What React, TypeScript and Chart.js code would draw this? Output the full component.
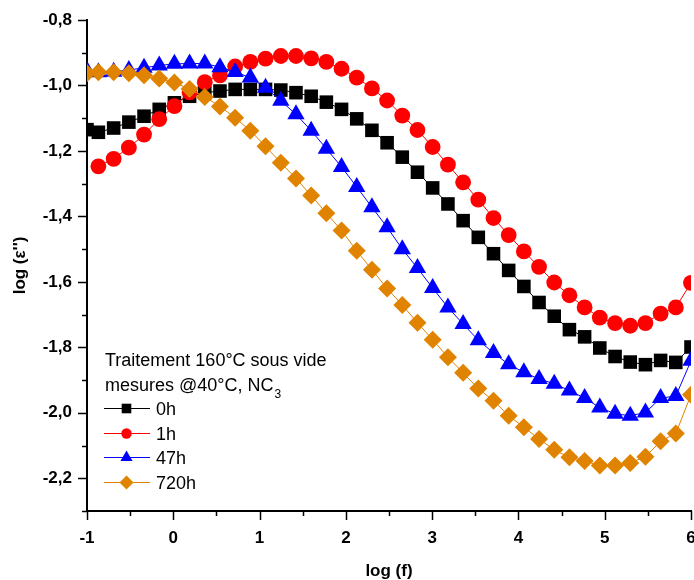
import React, { useEffect, useRef } from 'react';
import { Chart, registerables } from 'chart.js';

Chart.register(...registerables);

// log10 of measurement frequency
const logF = [-1, -0.868, -0.691, -0.515, -0.339, -0.163, 0.013, 0.189, 0.365, 0.541, 0.717, 0.893, 1.069, 1.246, 1.422, 1.598, 1.774, 1.95, 2.126, 2.302, 2.478, 2.654, 2.83, 3.006, 3.183, 3.359, 3.535, 3.711, 3.887, 4.063, 4.239, 4.415, 4.591, 4.767, 4.943, 5.12, 5.296, 5.472, 5.648, 5.824, 6.0];

const eps0h = [-1.135, -1.143, -1.130, -1.112, -1.094, -1.073, -1.053, -1.033, -1.022, -1.017, -1.012, -1.012, -1.012, -1.014, -1.022, -1.033, -1.051, -1.073, -1.102, -1.137, -1.175, -1.219, -1.265, -1.313, -1.362, -1.413, -1.464, -1.514, -1.565, -1.614, -1.663, -1.705, -1.746, -1.768, -1.802, -1.828, -1.845, -1.853, -1.840, -1.846, -1.799];
const eps1h = [null, -1.247, -1.224, -1.190, -1.150, -1.103, -1.063, -1.021, -0.990, -0.969, -0.942, -0.928, -0.918, -0.910, -0.910, -0.917, -0.928, -0.949, -0.976, -1.009, -1.046, -1.092, -1.136, -1.188, -1.242, -1.296, -1.349, -1.405, -1.457, -1.507, -1.554, -1.602, -1.641, -1.678, -1.709, -1.726, -1.734, -1.726, -1.697, -1.678, -1.603];
const eps47h = [-0.955, -0.960, -0.958, -0.953, -0.946, -0.939, -0.934, -0.933, -0.933, -0.944, -0.959, -0.976, -1.007, -1.047, -1.088, -1.138, -1.193, -1.249, -1.310, -1.372, -1.433, -1.500, -1.558, -1.619, -1.678, -1.729, -1.778, -1.817, -1.852, -1.876, -1.897, -1.911, -1.932, -1.955, -1.984, -2.003, -2.009, -1.999, -1.955, -1.949, -1.841];
const eps720h = [-0.963, -0.960, -0.960, -0.963, -0.969, -0.979, -0.991, -1.011, -1.035, -1.064, -1.099, -1.138, -1.186, -1.236, -1.284, -1.336, -1.390, -1.443, -1.505, -1.563, -1.620, -1.671, -1.725, -1.777, -1.830, -1.878, -1.926, -1.963, -2.009, -2.044, -2.080, -2.113, -2.136, -2.147, -2.161, -2.161, -2.153, -2.134, -2.087, -2.063, -1.945];

const seriesLabels = ['0h', '1h', '47h', '720h'];
const seriesColors = ['#000000', '#FF0000', '#0000FF', '#E08300'];
const seriesStyles = ['rect', 'circle', 'triangle', 'rectRot'];
const seriesRadius = [9.6, 7.9, 10, 9];

const legendLine1 = 'Traitement 160°C sous vide';
const legendLine2 = 'mesures @40°C, NC';
const legendSub = '3';

const xTitle = 'log (f)';
const yTitle = "log (ε'')";

const FONT = '"Liberation Sans", Arial, sans-serif';

function drawMarker(ctx: CanvasRenderingContext2D, style: string, x: number, y: number, r: number, color: string) {
  ctx.save();
  ctx.fillStyle = color;
  ctx.beginPath();
  if (style === 'rect') {
    const s = r * Math.SQRT1_2;
    ctx.rect(x - s, y - s, 2 * s, 2 * s);
  } else if (style === 'circle') {
    ctx.arc(x, y, r, 0, Math.PI * 2);
  } else if (style === 'triangle') {
    ctx.moveTo(x, y - r);
    ctx.lineTo(x + r * 0.866, y + r * 0.5);
    ctx.lineTo(x - r * 0.866, y + r * 0.5);
    ctx.closePath();
  } else {
    ctx.moveTo(x, y - r);
    ctx.lineTo(x + r, y);
    ctx.lineTo(x, y + r);
    ctx.lineTo(x - r, y);
    ctx.closePath();
  }
  ctx.fill();
  ctx.restore();
}

const overlayPlugin = {
  id: 'overlay',
  afterDraw(chart: any) {
    const ctx: CanvasRenderingContext2D = chart.ctx;
    const area = chart.chartArea;
    const xs = chart.scales.x;
    const ys = chart.scales.y;
    ctx.save();
    ctx.strokeStyle = '#000';
    ctx.lineWidth = 1.5;
    // x ticks (major / minor)
    xs.ticks.forEach((t: any) => {
      const px = Math.round(xs.getPixelForValue(t.value)) + 0.5;
      const major = Math.abs(t.value - Math.round(t.value)) < 1e-6;
      ctx.beginPath();
      ctx.moveTo(px, area.bottom);
      ctx.lineTo(px, area.bottom + (major ? 9 : 5));
      ctx.stroke();
    });
    ys.ticks.forEach((t: any) => {
      const py = Math.round(ys.getPixelForValue(t.value)) + 0.5;
      const major = Math.round(t.value * 10) % 2 === 0;
      ctx.beginPath();
      ctx.moveTo(area.left, py);
      ctx.lineTo(area.left - (major ? 9 : 5), py);
      ctx.stroke();
    });

    // legend
    ctx.fillStyle = '#000';
    ctx.textBaseline = 'alphabetic';
    ctx.textAlign = 'left';
    ctx.font = `18px ${FONT}`;
    const lx = 105;
    ctx.fillText(legendLine1, lx, 365.5);
    ctx.fillText(legendLine2, lx, 390.5);
    const w2 = ctx.measureText(legendLine2).width;
    ctx.font = `12px ${FONT}`;
    ctx.fillText(legendSub, lx + w2 + 1, 397.5);
    ctx.font = `18px ${FONT}`;
    const rowY = [408, 433, 457, 482];
    const legendR = [6.8, 5.2, 7, 7];
    seriesLabels.forEach((lab, i) => {
      const cy = rowY[i];
      ctx.strokeStyle = seriesColors[i];
      ctx.lineWidth = 1;
      ctx.beginPath();
      ctx.moveTo(104, cy + 0.5);
      ctx.lineTo(150, cy + 0.5);
      ctx.stroke();
      drawMarker(ctx, seriesStyles[i], 126.5, cy + 0.5, legendR[i], seriesColors[i]);
      ctx.fillStyle = '#000';
      ctx.fillText(lab, 156, cy + 6.5);
    });
    ctx.restore();
  },
};

export default function App() {
  const ref = useRef<HTMLCanvasElement | null>(null);
  useEffect(() => {
    if (!ref.current) return;
    const series = [eps0h, eps1h, eps47h, eps720h];
    const datasets = series.map((vals, i) => ({
      label: seriesLabels[i],
      data: logF
        .map((x, j) => ({ x, y: vals[j] }))
        .filter((p) => p.y !== null),
      borderColor: seriesColors[i],
      backgroundColor: seriesColors[i],
      borderWidth: 1,
      pointStyle: seriesStyles[i],
      pointRadius: seriesRadius[i],
      pointBorderWidth: 0,
      pointBackgroundColor: seriesColors[i],
      tension: 0,
      order: 4 - i,
    }));
    const chart = new Chart(ref.current, {
      type: 'line',
      data: { datasets: datasets as any },
      plugins: [overlayPlugin],
      options: {
        animation: false,
        responsive: false,
        maintainAspectRatio: false,
        layout: { autoPadding: false, padding: { left: 0, right: 3, top: 20, bottom: 0 } },
        plugins: { legend: { display: false }, tooltip: { enabled: false } },
        scales: {
          x: {
            type: 'linear',
            min: -1,
            max: 6,
            afterFit: (s: any) => {
              s.height = 69;
              s.paddingLeft = 0;
              s.paddingRight = 0;
            },
            grid: { display: false, drawTicks: false },
            border: { display: true, color: '#000', width: 2 },
            ticks: {
              stepSize: 0.5,
              autoSkip: false,
              maxRotation: 0,
              padding: 17,
              color: '#000',
              font: { family: FONT, size: 17, weight: 'bold' },
              callback: (v: any) => (Math.abs(v - Math.round(v)) < 1e-6 ? String(Math.round(v)) : ''),
            },
            title: {
              display: true,
              text: xTitle,
              color: '#000',
              font: { family: FONT, size: 17, weight: 'bold', lineHeight: 1.05 },
              padding: { top: 0, bottom: 0 },
            },
          },
          y: {
            type: 'linear',
            min: -2.3,
            max: -0.8,
            afterFit: (s: any) => {
              s.width = 87;
              s.paddingTop = 0;
              s.paddingBottom = 0;
            },
            grid: { display: false, drawTicks: false },
            border: { display: true, color: '#000', width: 2 },
            ticks: {
              stepSize: 0.1,
              autoSkip: false,
              padding: 15,
              color: '#000',
              font: { family: FONT, size: 17, weight: 'bold' },
              callback: (v: any) => {
                const n = Math.round(v * 10);
                return n % 2 === 0 ? (n / 10).toFixed(1).replace('.', ',') : '';
              },
            },
            title: {
              display: true,
              text: yTitle,
              color: '#000',
              font: { family: FONT, size: 17, weight: 'bold' },
              padding: { top: 10, bottom: 0 },
            },
          },
        },
      },
    });
    return () => chart.destroy();
  }, []);
  return (
    <div style={{ position: 'absolute', left: 0, top: 0, width: 694, height: 580, background: '#fff' }}>
      <canvas ref={ref} width={694} height={580} />
    </div>
  );
}
